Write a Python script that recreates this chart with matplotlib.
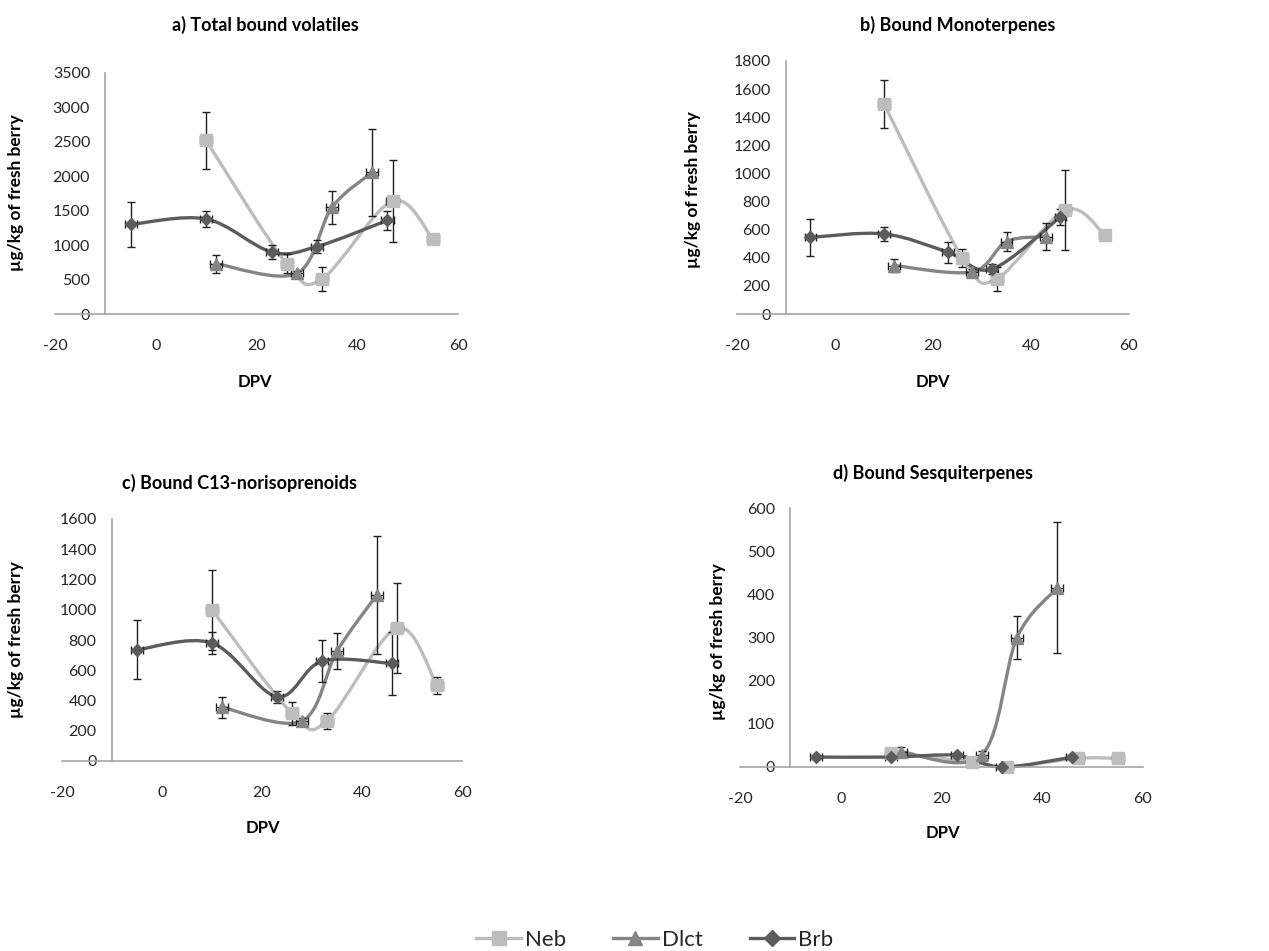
import numpy as np
import matplotlib
matplotlib.use("Agg")
import matplotlib.pyplot as plt
from matplotlib.path import Path
from matplotlib.patches import PathPatch
from matplotlib.lines import Line2D

plt.rcParams['font.family'] = ['Lato', 'DejaVu Sans']
plt.rcParams['axes.unicode_minus'] = False

# --- data, x = DPV
neb_x = [10, 26, 33, 47, 55]
dlct_x = [12, 28, 35, 43]
brb_x = [-5, 10, 23, 32, 46]
XERR = 1.2

# a) total bound volatiles
a_neb = [2520, 730, 510, 1640, 1090]
a_neb_err = [420, 140, 170, 590, 0]
a_dlct = [730, 590, 1550, 2060]
a_dlct_err = [130, 40, 240, 630]
a_brb = [1300, 1380, 900, 980, 1360]
a_brb_err = [330, 120, 95, 100, 140]

# b) bound monoterpenes
b_neb = [1495, 400, 250, 740, 565]
b_neb_err = [170, 65, 85, 285, 20]
b_dlct = [345, 300, 515, 550]
b_dlct_err = [45, 20, 65, 95]
b_brb = [545, 570, 440, 320, 690]
b_brb_err = [130, 48, 75, 35, 60]

# c) bound C13-norisoprenoids
c_neb = [1000, 315, 265, 880, 500]
c_neb_err = [265, 78, 55, 300, 55]
c_dlct = [355, 265, 725, 1100]
c_dlct_err = [70, 20, 120, 390]
c_brb = [735, 780, 425, 660, 645]
c_brb_err = [195, 70, 40, 140, 210]

# d) bound sesquiterpenes
d_neb = [32, 12, 0, 20, 20]
d_neb_err = [5, 5, 3, 3, 3]
d_dlct = [35, 28, 300, 415]
d_dlct_err = [12, 8, 50, 152]
d_brb = [23, 23, 27, 0, 23]
d_brb_err = [5, 4, 4, 3, 4]

titles = ["a) Total bound volatiles", "b) Bound Monoterpenes",
          "c) Bound C13-norisoprenoids", "d) Bound Sesquiterpenes"]
ymaxes = [3500, 1800, 1600, 600]
ysteps = [500, 200, 200, 100]

NEB_C = "#bdbdbd"
DLCT_C = "#858585"
BRB_C = "#5c5c5c"
AXIS_C = "#a6a6a6"
TXT_C = "#262626"

W, H = 1269, 951

# pixel boxes: left, right, top, bottom
boxes = [(55, 458, 73, 314), (737, 1129, 61, 314),
         (62, 462, 519, 761), (740, 1143, 508, 767)]
title_pos = [(265, 25), (958, 25), (240, 483), (933, 473)]
ylab_pos = [(16, 193), (693, 190), (16, 640), (718, 642)]
xlab_pos = [(255, 382), (933, 382), (263, 828), (943, 833)]


def _smooth_path(xs, ys):
    """Excel-style smoothed line (cubic Bezier through the points)."""
    pts = np.column_stack([xs, ys]).astype(float)
    n = len(pts)
    verts = [pts[0]]
    codes = [Path.MOVETO]
    for i in range(n - 1):
        p0 = pts[i - 1] if i > 0 else pts[i]
        p1 = pts[i]
        p2 = pts[i + 1]
        p3 = pts[i + 2] if i + 2 < n else pts[i + 1]
        verts += [p1 + (p2 - p0) / 6, p2 - (p3 - p1) / 6, p2]
        codes += [Path.CURVE4] * 3
    return Path(verts, codes)


def _series(ax, xs, ys, err, color, marker, ms):
    ax.add_patch(PathPatch(_smooth_path(xs, ys), fill=False, edgecolor=color,
                           lw=2.4, capstyle="round", joinstyle="round",
                           zorder=2, clip_on=False))
    ax.errorbar(xs, ys, yerr=err, xerr=XERR, fmt="none", ecolor="#1f1f1f",
                elinewidth=1.0, capsize=3, capthick=1.0, zorder=2.5, clip_on=False)
    ax.plot(xs, ys, linestyle="none", marker=marker, ms=ms, color=color,
            mec=color, zorder=3, clip_on=False)


fig = plt.figure(figsize=(W / 100, H / 100), dpi=100)

panels = [(a_neb, a_neb_err, a_dlct, a_dlct_err, a_brb, a_brb_err),
          (b_neb, b_neb_err, b_dlct, b_dlct_err, b_brb, b_brb_err),
          (c_neb, c_neb_err, c_dlct, c_dlct_err, c_brb, c_brb_err),
          (d_neb, d_neb_err, d_dlct, d_dlct_err, d_brb, d_brb_err)]

for k, (neb, neb_e, dlct, dlct_e, brb, brb_e) in enumerate(panels):
    l, r, t, b = boxes[k]
    ax = fig.add_axes([l / W, 1 - b / H, (r - l) / W, (b - t) / H])
    ax.set_xlim(-20, 60)
    ax.set_ylim(0, ymaxes[k])
    ax.set_xticks(range(-20, 61, 20))
    ax.set_yticks(range(0, ymaxes[k] + 1, ysteps[k]))
    for s in ("top", "right"):
        ax.spines[s].set_visible(False)
    ax.spines["left"].set_position(("data", -10))
    for s in ("left", "bottom"):
        ax.spines[s].set_color(AXIS_C)
        ax.spines[s].set_linewidth(1.2)
    ax.tick_params(axis="y", length=0, pad=11, labelsize=11.5, labelcolor=TXT_C)
    ax.tick_params(axis="x", length=0, pad=18, labelsize=11.5, labelcolor=TXT_C)
    ax.patch.set_alpha(0)

    _series(ax, neb_x, neb, neb_e, NEB_C, "s", 8)
    _series(ax, dlct_x, dlct, dlct_e, DLCT_C, "^", 8)
    _series(ax, brb_x, brb, brb_e, BRB_C, "D", 6.5)

    tx, ty = title_pos[k]
    fig.text(tx / W, 1 - ty / H, titles[k], ha="center", va="center",
             fontsize=13, fontweight="bold", color="black")
    yx, yy = ylab_pos[k]
    fig.text(yx / W, 1 - yy / H, "µg/kg of fresh berry", rotation=90,
             ha="center", va="center", fontsize=12.5, fontweight="bold", color="black")
    xx, xy = xlab_pos[k]
    fig.text(xx / W, 1 - xy / H, "DPV", ha="center", va="center",
             fontsize=12, fontweight="bold", color="black")

handles = [Line2D([], [], color=NEB_C, lw=2.4, marker="s", ms=10),
           Line2D([], [], color=DLCT_C, lw=2.4, marker="^", ms=10),
           Line2D([], [], color=BRB_C, lw=2.4, marker="D", ms=8)]
fig.legend(handles, ["Neb", "Dlct", "Brb"], loc="center",
           bbox_to_anchor=(655 / W, 1 - 940 / H), ncol=3, frameon=False,
           fontsize=16, handlelength=2.0, columnspacing=2.1, handletextpad=0.2,
           labelcolor=TXT_C)

fig.savefig("out.png", dpi=100)
